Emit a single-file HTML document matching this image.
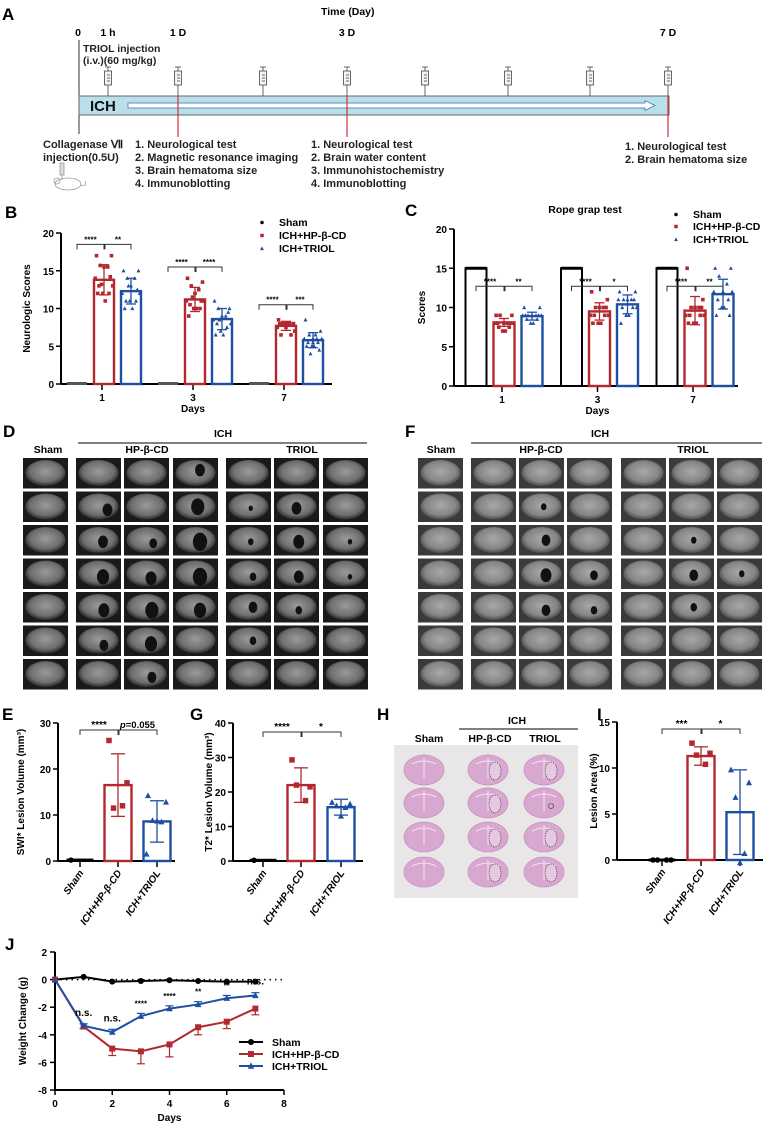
<!DOCTYPE html>
<html><head><meta charset="utf-8">
<style>
html,body{margin:0;padding:0;background:#fff;}
svg{display:block;font-family:"Liberation Sans",Arial,sans-serif;}
text{font-family:"Liberation Sans",Arial,sans-serif;}
</style></head>
<body>
<svg id="fig" xmlns="http://www.w3.org/2000/svg" width="765" height="1126" viewBox="0 0 765 1126">
<defs>
<radialGradient id="mriD" cx="50%" cy="45%" r="55%"><stop offset="0" stop-color="#9a9a9a"/><stop offset="0.7" stop-color="#6e6e6e"/><stop offset="1" stop-color="#2a2a2a"/></radialGradient>
<radialGradient id="mriF" cx="50%" cy="45%" r="55%"><stop offset="0" stop-color="#a8a8a8"/><stop offset="0.7" stop-color="#858585"/><stop offset="1" stop-color="#4a4a4a"/></radialGradient>
</defs>
<!-- Panel A -->
<g>
<text x="2" y="20" font-size="17" font-weight="bold">A</text>
<text x="321" y="15" font-size="10.5" font-weight="bold">Time (Day)</text>
<text x="78" y="36" font-size="10.5" font-weight="bold" text-anchor="middle">0</text>
<text x="108" y="36" font-size="10.5" font-weight="bold" text-anchor="middle">1 h</text>
<text x="178" y="36" font-size="10.5" font-weight="bold" text-anchor="middle">1 D</text>
<text x="347" y="36" font-size="10.5" font-weight="bold" text-anchor="middle">3 D</text>
<text x="668" y="36" font-size="10.5" font-weight="bold" text-anchor="middle">7 D</text>
<line x1="79" y1="40" x2="79" y2="134" stroke="#333" stroke-width="1"/>
<text x="83" y="52" font-size="10.5" font-weight="bold" fill="#222">TRIOL injection</text>
<text x="83" y="64" font-size="10.5" font-weight="bold" fill="#222">(i.v.)(60 mg/kg)</text>
<rect x="79" y="96" width="590" height="19" fill="#b9dfeb" stroke="#666" stroke-width="1"/>
<text x="90" y="111" font-size="15" font-weight="bold" fill="#111">ICH</text>
<path d="M128 103 L645 103 L645 100.5 L655 105.5 L645 110.5 L645 108 L128 108 Z" fill="#fff" stroke="#5a8fc8" stroke-width="1"/>
<line x1="178" y1="96" x2="178" y2="137" stroke="#d0303a" stroke-width="1.2"/>
<line x1="347" y1="96" x2="347" y2="137" stroke="#d0303a" stroke-width="1.2"/>
<line x1="668" y1="96" x2="668" y2="137" stroke="#d0303a" stroke-width="1.2"/>
<g id="syringes"></g>
<text x="43" y="148" font-size="11" font-weight="bold" fill="#222">Collagenase Ⅶ</text>
<text x="43" y="161" font-size="11" font-weight="bold" fill="#222">injection(0.5U)</text>
<g fill="none" stroke="#999" stroke-width="0.8">
<rect x="60" y="163" width="4" height="12" fill="#ddd"/><line x1="62" y1="175" x2="62" y2="180"/>
<ellipse cx="68" cy="184" rx="13" ry="6"/><circle cx="57" cy="181" r="3"/><path d="M81 185 q6 2 4 -4"/>
</g>
<g font-size="11" font-weight="bold" fill="#222">
<text x="135" y="148">1. Neurological test</text><text x="135" y="161">2. Magnetic resonance imaging</text><text x="135" y="174">3. Brain hematoma size</text><text x="135" y="187">4. Immunoblotting</text></g>
<g font-size="11" font-weight="bold" fill="#222">
<text x="311" y="148">1. Neurological test</text><text x="311" y="161">2. Brain water content</text><text x="311" y="174">3. Immunohistochemistry</text><text x="311" y="187">4. Immunoblotting</text></g>
<g font-size="11" font-weight="bold" fill="#222">
<text x="625" y="150">1. Neurological test</text><text x="625" y="163">2. Brain hematoma size</text></g>
</g>
<text x="5" y="218" font-size="17" font-weight="bold">B</text>
<text x="405" y="216" font-size="17" font-weight="bold">C</text>
<text x="585" y="213" font-size="10.5" font-weight="bold" text-anchor="middle">Rope grap test</text>
<g id="chartB"></g>
<g id="chartC"></g>
<!-- D / F -->
<text x="3" y="437" font-size="17" font-weight="bold">D</text>
<text x="405" y="437" font-size="17" font-weight="bold">F</text>
<g id="gridD"></g>
<g id="gridF"></g>
<!-- E G H I -->
<text x="2" y="720" font-size="17" font-weight="bold">E</text>
<text x="190" y="720" font-size="17" font-weight="bold">G</text>
<text x="377" y="720" font-size="17" font-weight="bold">H</text>
<text x="597" y="720" font-size="17" font-weight="bold">I</text>
<g id="chartE"></g>
<g id="chartG"></g>
<g id="panelH"></g>
<g id="chartI"></g>
<text x="5" y="950" font-size="17" font-weight="bold">J</text>
<g id="chartJ"></g>
</svg>
<script>
// ---------- DATA ----------
const bDays = ["1","3","7"];
const bHP = [13.8, 11.2, 7.7];
const bHPsd = [2.0, 1.6, 0.6];
const bTR = [12.3, 8.6, 5.8];
const bTRsd = [1.7, 1.4, 1.0];
const bSham = [0, 0, 0];
const bHPpts = [[17,17,15.7,15.5,15.5,14,13,13,12,12,11,12,14.2,13.2],[14,13.5,13,12.5,12,11,11,10.5,10,10,10,9,11,11.5],[8.5,8,8,8,7.5,7.5,7,6.5,6.5,8,8,8]];
const bTRpts = [[15,15,14,14,13,12,12,11,11,11,10,10,12.5,13],[11,10,10,9,9,8.5,8,8,7.5,7,6.5,6.5,9.5,8.5],[8.5,7,6.5,6,6,6,6,5.5,5.5,5,5,5,4.5,4,6.5,5.5]];
const bSig1 = ["****","****","****"];
const bSig2 = ["**","****","***"];
const bBracket = [18.5, 15.5, 10.5];
const bTicks = [0,5,10,15,20];

const cDays = ["1","3","7"];
const cSham = [15, 15, 15];
const cHP = [8.1, 9.5, 9.6];
const cHPsd = [0.5, 1.1, 1.8];
const cTR = [8.9, 10.4, 11.7];
const cTRsd = [0.5, 1.2, 1.9];
const cHPpts = [[9,9,9,8,8,8,8,7.5,7.5,7,7,8,8],[12,11,10,10,10,9,9,9,9,8,8,8,10],[15,11,10,10,10,9,9,9,9,8,8,8,10]];
const cTRpts = [[10,10,9,9,9,9,9,8.5,8.5,8,8,9,9],[12,12,11,11,11,11,10,10,10,9,9,8,11],[15,15,14,13,12,12,12,11,11,10,10,9,9]];
const cSig1 = ["****","****","****"];
const cSig2 = ["**","*","**"];
const cBracket = [12.7, 12.7, 12.7];
const cTicks = [0,5,10,15,20];

const groupNames = ["Sham","ICH+HP-β-CD","ICH+TRIOL"];
const eMeans = [0.2, 16.5, 8.6];
const eSD = [0, 6.8, 4.5];
const ePts = [[0.2],[26.2,17,11.5,12],[14.2,12.8,8.8,8.5,8.7,1.5]];
const eTicks = [0,10,20,30];
const gMeans = [0.2, 22, 15.6];
const gSD = [0, 5, 2.3];
const gPts = [[0.2],[29.3,21.5,22,17.5],[17,16.5,16,15.5,13]];
const gTicks = [0,10,20,30,40];
const iMeans = [0, 11.3, 5.2];
const iSD = [0, 1.0, 4.6];
const iPts = [[0,0,0,0],[12.7,11.6,11.4,10.4],[9.8,8.4,6.8,0.7,-0.3]];
const iTicks = [0,5,10,15];

const jDays = [0,1,2,3,4,5,6,7];
const jSham = [0,0.2,-0.15,-0.1,-0.05,-0.1,-0.15,-0.15];
const jShamSd = [0,0.1,0.1,0.1,0.1,0.1,0.1,0.1];
const jHP = [0,-3.4,-5,-5.2,-4.7,-3.45,-3.05,-2.1];
const jHPsd = [0,0.15,0.5,0.9,0.9,0.55,0.5,0.45];
const jTR = [0,-3.35,-3.8,-2.65,-2.1,-1.8,-1.35,-1.15];
const jTRsd = [0,0.15,0.2,0.2,0.2,0.2,0.2,0.2];
const jSig = ["","n.s.","n.s.","****","****","**","**","n.s."];
const jXTicks = [0,2,4,6,8];
const jYTicks = [2,0,-2,-4,-6,-8];

const RED = "#b3282e", BLUE = "#1f4fa3";
const NS = "http://www.w3.org/2000/svg";
function mk(tag, attrs, parent){ const e=document.createElementNS(NS,tag); for(const k in attrs) e.setAttribute(k,attrs[k]); parent.appendChild(e); return e; }
function txt(parent, x, y, s, size, anchor, extra){ const t=mk('text',Object.assign({x:x,y:y,'font-size':size,'font-weight':'bold','text-anchor':anchor||'start'},extra||{}),parent); t.textContent=s; return t; }
function marker(parent, kind, x, y, color, s){
  let m;
  if(kind==='sq'){ m=mk('rect',{x:x-s/2,y:y-s/2,width:s,height:s,fill:color},parent); }
  else if(kind==='tri'){ m=mk('path',{d:`M${x} ${y-s*0.6} L${x+s*0.55} ${y+s*0.45} L${x-s*0.55} ${y+s*0.45}Z`,fill:color},parent); }
  else { m=mk('circle',{cx:x,cy:y,r:s/2,fill:color},parent); }
  return m;
}
function errbar(parent, x, yTop, yBot, color, cap){
  const g=mk('g',{stroke:color,'stroke-width':1.3},parent);
  mk('line',{x1:x,y1:yTop,x2:x,y2:yBot},g);
  mk('line',{x1:x-cap,y1:yTop,x2:x+cap,y2:yTop},g);
  mk('line',{x1:x-cap,y1:yBot,x2:x+cap,y2:yBot},g);
  return g;
}
function bracket(parent, x1, x2, y, label, fs){
  const g=mk('g',{},parent);
  mk('path',{d:`M${x1} ${y+5} V${y} H${x2} V${y+5}`,fill:'none',stroke:'#333','stroke-width':1},g);
  txt(g,(x1+x2)/2,y-2,label,fs||8,'middle');
  return g;
}
function yAxis(parent, x, y0, y1, ticks, scale, fs, title, titleX){
  const g=mk('g',{},parent);
  mk('line',{x1:x,y1:scale(ticks[ticks.length-1]),x2:x,y2:scale(ticks[0]),stroke:'#000','stroke-width':2},g);
  ticks.forEach(t=>{ const y=scale(t); mk('line',{x1:x-5,y1:y,x2:x,y2:y,stroke:'#000','stroke-width':1.5},g); txt(g,x-7,y+4,String(t),fs,'end'); });
  if(title){ txt(g,titleX,(scale(ticks[0])+scale(ticks[ticks.length-1]))/2,title,fs,'middle',{transform:`rotate(-90 ${titleX} ${(scale(ticks[0])+scale(ticks[ticks.length-1]))/2})`}); }
  return g;
}
const jitter=[-6,6,-3,3,0,-7,7,-4,4,-1,1,-5,5,-2,2,0];

// ---------- Syringes ----------
const syr=document.getElementById('syringes');
[108,178,263,347,425,508,590,668].forEach(x=>{
  const g=mk('g',{stroke:'#444','stroke-width':0.8,fill:'none'},syr);
  
  
  mk('line',{x1:x-3,y1:67,x2:x+3,y2:67},g);
  mk('line',{x1:x,y1:67,x2:x,y2:71},g);
  mk('rect',{x:x-3.5,y:71,width:7,height:14,fill:'#f4f4f4'},g);
  mk('line',{x1:x-1,y1:75,x2:x+2,y2:75},g); mk('line',{x1:x-1,y1:78,x2:x+2,y2:78},g); mk('line',{x1:x-1,y1:81,x2:x+2,y2:81},g);
  mk('line',{x1:x,y1:85,x2:x,y2:96},g);
});

// ---------- Grouped bar charts B & C ----------
function groupedChart(id, cfg){
  const root=document.getElementById(id);
  const sc=v=>cfg.y0-v*(cfg.y0-cfg.yTop)/cfg.vmax;
  yAxis(root,cfg.ax,cfg.y0,cfg.yTop,cfg.ticks,sc,10,cfg.title,cfg.titleX);
  const xa=mk('line',{x1:cfg.ax,y1:cfg.y0,x2:cfg.axEnd,y2:cfg.y0,stroke:'#000','stroke-width':2},root);
  
  
  cfg.days.forEach((d,i)=>{
    const cx=cfg.g0+i*cfg.pitch;
    mk('line',{x1:cx,y1:cfg.y0,x2:cx,y2:cfg.y0+6,stroke:'#000','stroke-width':1.5},root);
    txt(root,cx,cfg.y0+17,d,10,'middle');
    const xs=cx+cfg.off[0], xh=cx+cfg.off[1], xt=cx+cfg.off[2], w=cfg.bw;
    if(cfg.sham[i]>0){
      const r=mk('rect',{x:xs-w/2,y:sc(cfg.sham[i]),width:w,height:cfg.y0-sc(cfg.sham[i]),fill:'#fff',stroke:'#000','stroke-width':2},root);
      
      
      mk('rect',{x:xs-w/2,y:sc(cfg.sham[i])-1.5,width:w,height:3,fill:'#000'},root);
    } else {
      const r=mk('rect',{x:xs-w/2,y:cfg.y0-2,width:w,height:3,fill:'#555'},root);
      
      
    }
    [[xh,cfg.hp,cfg.hpsd,cfg.hppts,RED,'sq','bar-hp'],[xt,cfg.tr,cfg.trsd,cfg.trpts,BLUE,'tri','bar-triol']].forEach(s=>{
      const [x,m,sd,pts,col,kind,nm]=s;
      const r=mk('rect',{x:x-w/2,y:sc(m[i]),width:w,height:cfg.y0-sc(m[i]),fill:'#fff',stroke:col,'stroke-width':2.4},root);
      
      
      pts[i].forEach((p,k)=>marker(root,kind,x+jitter[k%jitter.length]*(w/16),sc(p),col,3.6));
      errbar(root,x,sc(m[i]+sd[i]),sc(m[i]-sd[i]),col,5);
    });
    const b1=bracket(root,xs,xh,sc(cfg.br[i]),cfg.sig1[i],8);
    
    
    const b2=bracket(root,xh+1,xt,sc(cfg.br[i]),cfg.sig2[i],8);
    
    
  });
  const dl=txt(root,cfg.g0+cfg.pitch,cfg.y0+28,'Days',10,'middle');
  
  
  const lg=mk('g',{},root);
  
  
  cfg.leg.forEach((yy,k)=>{
    const col=[ '#000',RED,BLUE][k];
    marker(lg,['dot','sq','tri'][k],cfg.legX,yy-3.5,col,3.5);
    txt(lg,cfg.legX+17,yy,groupNames[k],cfg.legFs,'start',{'font-weight':'bold'});
  });
}
groupedChart('chartB',{ax:61,y0:384,yTop:233,vmax:20,ticks:bTicks,title:'Neurologic Scores',titleX:30,axEnd:332,g0:102,pitch:91,off:[-25,2,29],bw:20,
  days:bDays,sham:bSham,hp:bHP,hpsd:bHPsd,tr:bTR,trsd:bTRsd,hppts:bHPpts,trpts:bTRpts,sig1:bSig1,sig2:bSig2,br:bBracket,leg:[226,239,252],legX:262,legFs:10.5});
groupedChart('chartC',{ax:454,y0:386,yTop:229,vmax:20,ticks:cTicks,title:'Scores',titleX:425,axEnd:738,g0:502,pitch:95.5,off:[-26,2,30],bw:21,
  days:cDays,sham:cSham,hp:cHP,hpsd:cHPsd,tr:cTR,trsd:cTRsd,hppts:cHPpts,trpts:cTRpts,sig1:cSig1,sig2:cSig2,br:cBracket,leg:[218,230,243],legX:676,legFs:10.5});

// ---------- MRI grids ----------
const lesD=[[0,3,0.6,0.4,9],[1,1,0.7,0.6,9],[1,3,0.55,0.5,12],[1,4,0.55,0.55,4],[1,5,0.5,0.55,9],[2,1,0.6,0.55,9],[2,2,0.65,0.6,7],[2,3,0.6,0.55,13],[2,4,0.55,0.55,5],[2,5,0.55,0.55,10],[2,6,0.6,0.55,4],
 [3,1,0.6,0.6,11],[3,2,0.6,0.65,10],[3,3,0.6,0.6,13],[3,4,0.6,0.6,6],[3,5,0.55,0.6,9],[3,6,0.6,0.6,4],[4,1,0.62,0.6,10],[4,2,0.62,0.6,12],[4,3,0.6,0.6,11],[4,4,0.6,0.5,8],[4,5,0.55,0.6,6],
 [5,1,0.62,0.65,8],[5,2,0.6,0.6,11],[5,4,0.6,0.5,6],[6,2,0.62,0.6,8]];
const lesF=[[1,2,0.55,0.5,5],[2,2,0.6,0.5,8],[2,5,0.55,0.5,5],[3,2,0.6,0.55,10],[3,3,0.6,0.55,7],[3,5,0.55,0.55,8],[3,6,0.55,0.5,5],[4,2,0.6,0.6,8],[4,3,0.6,0.6,6],[4,5,0.55,0.5,6]];
function mriGrid(id, cols, grad, bg, les, header){
  const root=document.getElementById(id);
  const rows=[458,491.5,525,558.5,592,625.5,659];
  rows.forEach((ry,r)=>cols.forEach((cx,c)=>{
    const g=mk('g',{},root);
    
    
    mk('rect',{x:cx,y:ry,width:45,height:30.5,fill:bg},g);
    mk('ellipse',{cx:cx+22.5,cy:ry+15,rx:20,ry:13,fill:`url(#${grad})`},g);
    les.filter(l=>l[0]===r&&l[1]===c).forEach(l=>mk('ellipse',{cx:cx+45*l[2],cy:ry+30.5*l[3],rx:l[4]*0.55,ry:l[4]*0.7,fill:'#111'},g));
  }));
  const h=header;
  txt(root,h.sham,453,'Sham',10.5,'middle');
  txt(root,h.hp,453,'HP-β-CD',10.5,'middle',{'font-family':'"Liberation Sans","DejaVu Sans",sans-serif'});
  txt(root,h.tr,453,'TRIOL',10.5,'middle');
  txt(root,h.ich,437,'ICH',10.5,'middle');
  mk('line',{x1:h.l1,y1:443,x2:h.l2,y2:443,stroke:'#000','stroke-width':1},root);
}
mriGrid('gridD',[23,76,124,173,226,274,323],'mriD','#1a1a1a',lesD,{sham:48,hp:147,tr:302,ich:223,l1:78,l2:367});
mriGrid('gridF',[418,471,519,567,621,669,717],'mriF','#3a3a3a',lesF,{sham:441,hp:541,tr:693,ich:600,l1:471,l2:762});

// ---------- Simple bar charts E, G, I ----------
function simpleChart(id, cfg){
  const root=document.getElementById(id);
  const sc=v=>cfg.y0-v*(cfg.y0-cfg.yTop)/cfg.vmax;
  yAxis(root,cfg.ax,cfg.y0,cfg.yTop,cfg.ticks,sc,10,null);
  const tl=mk('text',{x:cfg.titleX,y:(cfg.y0+cfg.yTop)/2,'font-size':10,'font-weight':'bold','text-anchor':'middle',transform:`rotate(-90 ${cfg.titleX} ${(cfg.y0+cfg.yTop)/2})`},root);
  tl.innerHTML=cfg.title;
  
  
  mk('line',{x1:cfg.ax,y1:cfg.y0,x2:cfg.axEnd,y2:cfg.y0,stroke:'#000','stroke-width':2},root);
  const cols=['#000',RED,BLUE], kinds=['dot','sq','tri'];
  cfg.xs.forEach((x,i)=>{
    mk('line',{x1:x,y1:cfg.y0,x2:x,y2:cfg.y0+6,stroke:'#000','stroke-width':1.5},root);
    if(cfg.means[i]>0.5){
      const r=mk('rect',{x:x-cfg.bw/2,y:sc(cfg.means[i]),width:cfg.bw,height:cfg.y0-sc(cfg.means[i]),fill:'#fff',stroke:cols[i],'stroke-width':2.4},root);
      
      
    } else {
      const r=mk('rect',{x:x-cfg.bw/2,y:sc(Math.max(cfg.means[i],0))-1.5,width:cfg.bw,height:3,fill:'#000'},root);
      
      
    }
    cfg.pts[i].forEach((p,k)=>marker(root,kinds[i],x+jitter[k%jitter.length]*cfg.bw/18,sc(p),cols[i],5.5));
    if(cfg.sd[i]>0) errbar(root,x,sc(cfg.means[i]+cfg.sd[i]),sc(cfg.means[i]-cfg.sd[i]),cols[i],7);
    const lx=x+4, ly=cfg.y0+12;
    const t=txt(root,lx,ly,groupNames[i],10,'end',{'font-style':'italic',transform:`rotate(-55 ${lx} ${ly})`});
    
    
  });
  const b1=bracket(root,cfg.xs[0],cfg.xs[1],cfg.brY,cfg.sig[0],10);
  
  
  const b2=bracket(root,cfg.xs[1]+1,cfg.xs[2],cfg.brY,'',10);
  
  
  const s2=mk('text',{x:(cfg.xs[1]+cfg.xs[2])/2,y:cfg.brY-2,'font-size':cfg.sig[1].length>2?9.5:10,'font-weight':'bold','text-anchor':'middle'},root);
  s2.innerHTML=cfg.sig[1];
}
simpleChart('chartE',{ax:58,y0:861,yTop:723,vmax:30,ticks:eTicks,axEnd:175,xs:[80,118,157],bw:27,means:eMeans,sd:eSD,pts:ePts,
  title:'SWI* Lesion Volume (mm³)',titleX:24,brY:730,sig:['****','<tspan font-style="italic">p</tspan>=0.055']});
simpleChart('chartG',{ax:233,y0:861,yTop:723,vmax:40,ticks:gTicks,axEnd:363,xs:[263,301,341],bw:27,means:gMeans,sd:gSD,pts:gPts,
  title:'T2* Lesion Volume (mm³)',titleX:212,brY:732,sig:['****','*']});
simpleChart('chartI',{ax:617,y0:860,yTop:722,vmax:15,ticks:iTicks,axEnd:763,xs:[662,701,740],bw:27,means:iMeans,sd:iSD,pts:iPts,
  title:'Lesion Area (%)',titleX:597,brY:729,sig:['***','*']});

// ---------- H histology ----------
(function(){
  const root=document.getElementById('panelH');
  txt(root,517,724,'ICH',10.5,'middle');
  mk('line',{x1:459,y1:729,x2:578,y2:729,stroke:'#000','stroke-width':1},root);
  txt(root,429,742,'Sham',10.5,'middle');
  txt(root,490,742,'HP-β-CD',10.5,'middle');
  txt(root,545,742,'TRIOL',10.5,'middle');
  mk('rect',{x:394,y:745,width:184,height:153,fill:'#e9e6e8'},root);
  const rows=[770,803,837,872], cols=[424,488,544];
  rows.forEach((y,r)=>cols.forEach((x,c)=>{
    const e=mk('ellipse',{cx:x,cy:y,rx:20,ry:15,fill:'#d8a8d0',stroke:'#c792bf','stroke-width':0.8},root);
    
    
    mk('path',{d:`M${x-12} ${y-6} q12 -6 24 0 M${x} ${y-12} v20`,stroke:'#f3e4ef','stroke-width':1,fill:'none'},root);
    if(c>0 && !(c===2 && r===1)) mk('ellipse',{cx:x+7,cy:y+1,rx:6,ry:9,fill:'#e6c8e0',stroke:'#333','stroke-width':0.6,'stroke-dasharray':'1.5 1'},root);
    if(c===2 && r===1) mk('circle',{cx:x+7,cy:y+3,r:2.5,fill:'none',stroke:'#333','stroke-width':0.6},root);
  }));
})();

// ---------- J line chart ----------
(function(){
  const root=document.getElementById('chartJ');
  const X=d=>55+d*(229/8), Y=v=>952+(2-v)*13.8;
  const g=mk('g',{},root);
  mk('line',{x1:55,y1:Y(2),x2:55,y2:Y(-8),stroke:'#000','stroke-width':2},g);
  mk('line',{x1:55,y1:Y(-8),x2:X(8),y2:Y(-8),stroke:'#000','stroke-width':2},g);
  jYTicks.forEach(t=>{ mk('line',{x1:50,y1:Y(t),x2:55,y2:Y(t),stroke:'#000','stroke-width':1.5},g); txt(g,47,Y(t)+4,String(t),10,'end'); });
  jXTicks.forEach(t=>{ mk('line',{x1:X(t),y1:Y(-8),x2:X(t),y2:Y(-8)+5,stroke:'#000','stroke-width':1.5},g); txt(g,X(t),Y(-8)+17,String(t),10,'middle'); });
  const xt=txt(g,X(4),1121,'Days',10,'middle');
  
  
  const yt=txt(g,26,Y(-3),'Weight Change (g)',10,'middle',{transform:`rotate(-90 26 ${Y(-3)})`});
  
  
  mk('line',{x1:X(0),y1:Y(0),x2:X(8),y2:Y(0),stroke:'#000','stroke-width':1.5,'stroke-dasharray':'1.5 4'},g);
  function series(vals,sds,col,kind,nm,below){
    const s=mk('g',{},root);
    
    
    vals.forEach((v,i)=>{ if(sds[i]>0.12){ const y2=below?Y(v-sds[i]):Y(v+sds[i]); const gg=mk('g',{stroke:col,'stroke-width':1.2},s); mk('line',{x1:X(jDays[i]),y1:Y(v),x2:X(jDays[i]),y2:y2},gg); mk('line',{x1:X(jDays[i])-4,y1:y2,x2:X(jDays[i])+4,y2:y2},gg);} });
    mk('polyline',{points:vals.map((v,i)=>X(jDays[i])+','+Y(v)).join(' '),fill:'none',stroke:col,'stroke-width':2},s);
    vals.forEach((v,i)=>marker(s,kind,X(jDays[i]),Y(v),col,6));
  }
  series(jSham,jShamSd,'#000','dot','series-sham',false);
  series(jHP,jHPsd,RED,'sq','series-hp',true);
  series(jTR,jTRsd,BLUE,'tri','series-triol',false);
  jSig.forEach((s,i)=>{ if(!s) return; const base=Math.max(jTR[i],jHP[i])+jTRsd[i]; const big=s==='n.s.';
    const t=txt(root,X(jDays[i]),Y(base)-(big?8:7),s,big?10:8,'middle');
    
     });
  const lg=mk('g',{},root);
  
  
  [['Sham','#000','dot',1042],['ICH+HP-β-CD',RED,'sq',1054],['ICH+TRIOL',BLUE,'tri',1066]].forEach(l=>{
    mk('line',{x1:239,y1:l[3],x2:263,y2:l[3],stroke:l[1],'stroke-width':2},lg);
    marker(lg,l[2],251,l[3],l[1],6);
    txt(lg,272,l[3]+4,l[0],10.5,'start');
  });
})();
</script>
</body></html>
